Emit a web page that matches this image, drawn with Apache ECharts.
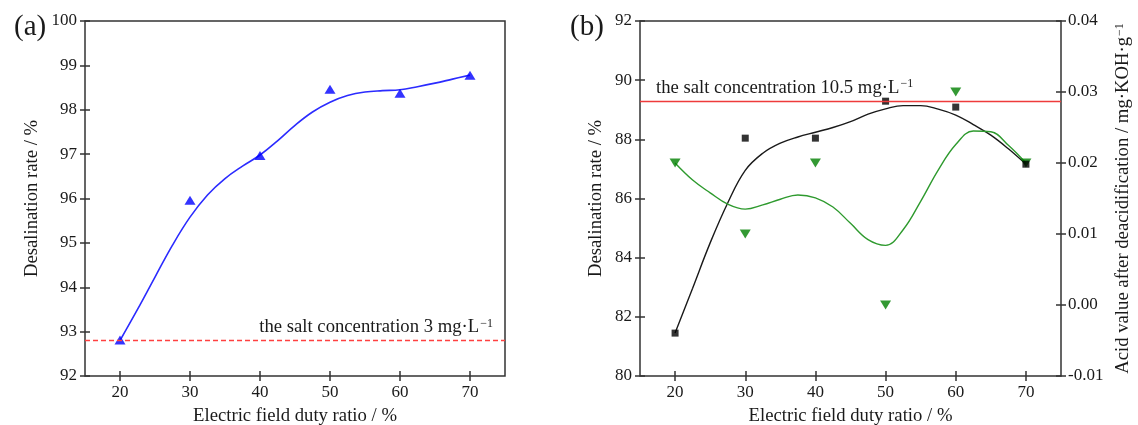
<!DOCTYPE html>
<html>
<head>
<meta charset="utf-8">
<title>Desalination rate vs electric field duty ratio</title>
<script src="https://cdn.jsdelivr.net/npm/echarts@6/dist/echarts.min.js"></script>
<style>
  html, body { margin: 0; padding: 0; background: #fff; }
  #chart { width: 1138px; height: 425px; }
</style>
</head>
<body>
<div id="chart"></div>
<script>
// Measured points: electric field duty ratio (%)
const dutyRatio = [20, 30, 40, 50, 60, 70];
const xTicks = [20, 30, 40, 50, 60, 70];

// (a) desalination rate (%)
const desalA = [92.81, 95.96, 96.97, 98.46, 98.37, 98.78];
// (a) fitted curve
const fitX = [20, 22.5, 25, 27.5, 30, 32.5, 35, 37.5, 40, 42.5, 45, 47.5, 50, 52.5, 55, 57.5, 60, 62.5, 65, 67.5, 70];
const fitYA = [92.8, 93.5, 94.23, 94.95, 95.58, 96.08, 96.45, 96.73, 96.98, 97.3, 97.65, 97.95, 98.17, 98.32, 98.4, 98.43, 98.45, 98.52, 98.6, 98.69, 98.78];
const saltLineA = 92.8;

// (b) desalination rate (%) and acid value after deacidification (mg KOH/g)
const desalB = [81.45, 88.04, 88.04, 89.29, 89.09, 87.16];
const acidB = [0.020, 0.010, 0.020, 0.000, 0.030, 0.020];
// (b) fitted curves
const fitYBDesal = [81.45, 82.97, 84.5, 85.85, 86.95, 87.53, 87.87, 88.08, 88.24, 88.4, 88.6, 88.85, 89.03, 89.14, 89.14, 89.02, 88.82, 88.5, 88.14, 87.68, 87.16];
const fitYBAcid = [0.020, 0.0176, 0.0158, 0.0142, 0.0135, 0.0141, 0.0149, 0.0155, 0.0151, 0.0138, 0.0115, 0.0092, 0.0084, 0.0106, 0.0146, 0.0190, 0.0226, 0.0245, 0.0244, 0.0225, 0.020];
const saltLineB = 89.29;

const zip = (xs, ys) => xs.map((x, i) => [x, ys[i]]);

const FONT = "'Liberation Serif', 'Times New Roman', serif";
const INK = '#333';
const TXT = '#1a1a1a';
const TICK_HALF = 5;
const NAME_SIZE = 18.7;

const supStyle = { fontFamily: FONT, fontSize: 12, color: TXT, verticalAlign: 'top', padding: [0, 0, 0, 1] };

// Frame lines come from the grid border; each axis sits TICK_HALF px outside it with
// inward ticks of twice that length, so the ticks cross the frame line.
function xAxisDef(grid) {
  return {
    gridIndex: grid, type: 'value', min: 15, max: 75, position: 'bottom', offset: TICK_HALF,
    splitLine: { show: false },
    axisLine: { show: false, onZero: false },
    axisTick: { show: true, customValues: xTicks, length: 2 * TICK_HALF, inside: true, lineStyle: { color: INK, width: 1.5 } },
    axisLabel: { customValues: xTicks, fontFamily: FONT, fontSize: 17, color: TXT, margin: 3 },
    name: 'Electric field duty ratio / %', nameLocation: 'middle', nameGap: 26,
    nameTextStyle: { fontFamily: FONT, fontSize: NAME_SIZE, color: TXT }
  };
}

function yAxisDef(grid, pos, min, max, interval, fmt, name, gap, margin) {
  return {
    gridIndex: grid, type: 'value', min: min, max: max, interval: interval, position: pos, offset: TICK_HALF,
    splitLine: { show: false },
    axisLine: { show: false, onZero: false },
    axisTick: { show: true, length: 2 * TICK_HALF, inside: true, lineStyle: { color: INK, width: 1.5 } },
    axisLabel: { fontFamily: FONT, fontSize: 17, color: TXT, margin: margin, formatter: fmt },
    name: name, nameLocation: 'middle', nameGap: gap, nameRotate: 90,
    nameTextStyle: { fontFamily: FONT, fontSize: NAME_SIZE, color: TXT, rich: { sup: supStyle } }
  };
}

const supRich = {
  base: { fontFamily: FONT, fontSize: NAME_SIZE, color: TXT },
  sup: supStyle
};

const option = {
  animation: false,
  backgroundColor: '#fff',
  title: [
    { text: '(a)', left: 9, top: 8, textStyle: { fontFamily: FONT, fontSize: 29, fontWeight: 'normal', color: TXT } },
    { text: '(b)', left: 565, top: 8, textStyle: { fontFamily: FONT, fontSize: 29, fontWeight: 'normal', color: TXT } }
  ],
  grid: [
    { left: 85, top: 21, width: 420, height: 355, outerBoundsMode: 'none', containLabel: false,
      show: true, borderColor: INK, borderWidth: 1.5, backgroundColor: 'transparent' },
    { left: 640, top: 21, width: 421, height: 355, outerBoundsMode: 'none', containLabel: false,
      show: true, borderColor: INK, borderWidth: 1.5, backgroundColor: 'transparent' }
  ],
  xAxis: [xAxisDef(0), xAxisDef(1)],
  yAxis: [
    yAxisDef(0, 'left', 92, 100, 1, v => String(v), 'Desalination rate / %', 38, 3),
    yAxisDef(1, 'left', 80, 92, 2, v => String(v), 'Desalination rate / %', 29, 3),
    yAxisDef(1, 'right', -0.01, 0.04, 0.01, v => v.toFixed(2),
      'Acid value after deacidification / mg·KOH·g{sup|−1}', 48, 2)
  ],
  series: [
    // (a)
    {
      type: 'line', xAxisIndex: 0, yAxisIndex: 0, data: zip(fitX, fitYA),
      smooth: 0.4, showSymbol: false, lineStyle: { color: '#2b2bff', width: 1.6 }, z: 2
    },
    {
      type: 'scatter', xAxisIndex: 0, yAxisIndex: 0, data: zip(dutyRatio, desalA),
      symbol: 'triangle', symbolSize: [11, 9], itemStyle: { color: '#0000ff' }, z: 3,
      markLine: {
        silent: true, symbol: 'none',
        lineStyle: { color: '#ff4040', type: [5, 3], width: 1.3 },
        label: {
          position: 'insideEndTop', distance: [12, 4],
          formatter: '{base|the salt concentration 3 mg·L}{sup|−1}', rich: supRich
        },
        data: [{ yAxis: saltLineA }]
      }
    },
    // (b)
    {
      type: 'line', xAxisIndex: 1, yAxisIndex: 1, data: zip(fitX, fitYBDesal),
      smooth: 0.4, showSymbol: false, lineStyle: { color: '#1a1a1a', width: 1.4 }, z: 2
    },
    {
      type: 'line', xAxisIndex: 1, yAxisIndex: 2, data: zip(fitX, fitYBAcid),
      smooth: 0.4, showSymbol: false, lineStyle: { color: '#2e9a2e', width: 1.4 }, z: 2
    },
    {
      type: 'scatter', xAxisIndex: 1, yAxisIndex: 1, data: zip(dutyRatio, desalB),
      symbol: 'rect', symbolSize: 7, itemStyle: { color: '#000' }, z: 4,
      markLine: {
        silent: true, symbol: 'none',
        lineStyle: { color: '#ee3b3b', type: 'solid', width: 1.3 },
        label: {
          position: 'insideStartTop', distance: [16, 4],
          formatter: '{base|the salt concentration 10.5 mg·L}{sup|−1}', rich: supRich
        },
        data: [{ yAxis: saltLineB }]
      }
    },
    {
      type: 'scatter', xAxisIndex: 1, yAxisIndex: 2, data: zip(dutyRatio, acidB),
      symbol: 'triangle', symbolRotate: 180, symbolSize: [11, 9], itemStyle: { color: '#008000' }, z: 3
    }
  ]
};

const chart = echarts.init(document.getElementById('chart'), null, { renderer: 'canvas' });
chart.setOption(option);
</script>
</body>
</html>
